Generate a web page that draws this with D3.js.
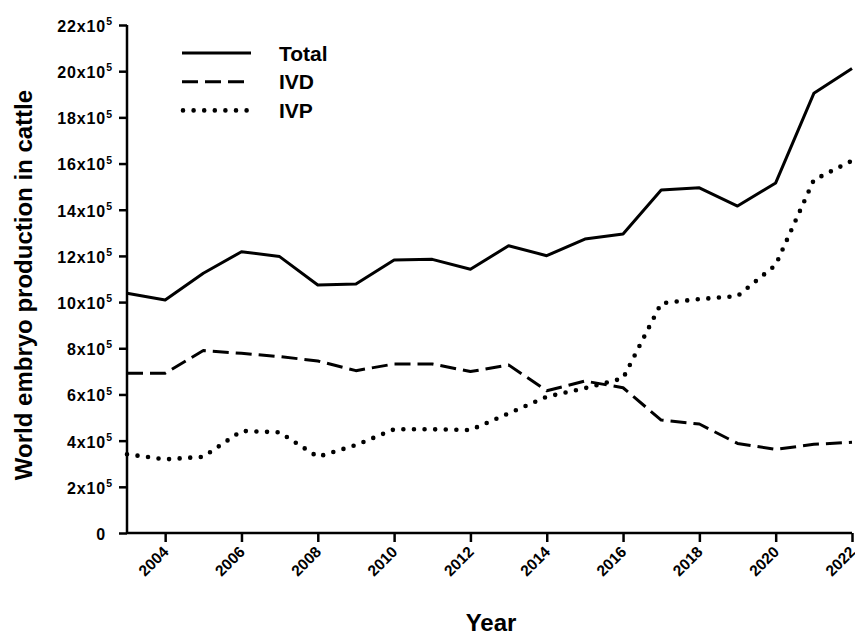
<!DOCTYPE html>
<html lang="en">
<head>
<meta charset="utf-8">
<style>
  body { margin: 0; background: #fff; }
  svg { font-family: "Liberation Sans", Arial, sans-serif; font-weight: bold; }
  .axis path, .axis line { stroke: #000; stroke-width: 2.5px; }
  .axis text { font-weight: bold; fill: #000; }
</style>
</head>
<body>
<svg width="855" height="635"></svg>
<script src="https://cdn.jsdelivr.net/npm/d3@7"></script>
<script>
// values in units of 10^5 embryos
var years = [2003, 2004, 2005, 2006, 2007, 2008, 2009, 2010, 2011, 2012, 2013,
             2014, 2015, 2016, 2017, 2018, 2019, 2020, 2021, 2022];
var total = [10.38, 10.09, 11.25, 12.18, 11.97, 10.74, 10.78, 11.82, 11.85, 11.42, 12.44,
             12.01, 12.73, 12.95, 14.85, 14.95, 14.16, 15.16, 19.04, 20.12];
var ivd = [6.92, 6.92, 7.9, 7.78, 7.64, 7.45, 7.03, 7.32, 7.32, 6.99, 7.28,
           6.16, 6.58, 6.29, 4.89, 4.72, 3.88, 3.62, 3.84, 3.93];
var ivp = [3.41, 3.19, 3.3, 4.42, 4.36, 3.3, 3.81, 4.49, 4.49, 4.46, 5.18,
           5.9, 6.27, 6.7, 9.95, 10.13, 10.26, 11.61, 15.29, 16.12];
var yTicks = [0, 2, 4, 6, 8, 10, 12, 14, 16, 18, 20, 22];
var xTicks = [2004, 2006, 2008, 2010, 2012, 2014, 2016, 2018, 2020, 2022];
var seriesNames = ["Total", "IVD", "IVP"];

var svg = d3.select("svg");

var x = d3.scaleLinear().domain([2003, 2022]).range([127, 852]);
var y = d3.scaleLinear().domain([0, 22]).range([533, 25]);

var styles = {
  Total: { dash: null, width: 3, cap: "butt" },
  IVD: { dash: "16,7", width: 3, cap: "butt" },
  IVP: { dash: "0,10.6", width: 4.6, cap: "round" }
};
var data = { Total: total, IVD: ivd, IVP: ivp };

// y axis, labels like 22x10^5
var yAxis = svg.append("g")
    .attr("class", "axis")
    .attr("transform", "translate(127,0)")
    .call(d3.axisLeft(y).tickValues(yTicks).tickSize(8).tickFormat(""));

yAxis.selectAll(".tick text").remove();
yAxis.selectAll(".tick").append("text")
    .attr("x", function (d) { return d === 0 ? -21 : -15; })
    .attr("dy", "0.4em")
    .attr("text-anchor", "end")
    .style("font-size", "16px")
    .style("letter-spacing", "0.9px")
    .each(function (d) {
      var t = d3.select(this);
      if (d === 0) { t.text("0"); return; }
      t.append("tspan").text(d + "x10");
      t.append("tspan").attr("dy", "-6.7").style("font-size", "10.5px").style("letter-spacing", "0px").text("5");
    });

var xAxis = svg.append("g")
    .attr("class", "axis")
    .attr("transform", "translate(0,533)")
    .call(d3.axisBottom(x).tickValues(xTicks).tickSize(9).tickFormat(d3.format("d")));

xAxis.selectAll(".tick text")
    .attr("text-anchor", "end")
    .attr("x", 0)
    .attr("y", 0)
    .attr("dy", "0.35em")
    .style("font-size", "15.5px")
    .attr("transform", "translate(0,16) rotate(-45)");

xAxis.select(".domain").attr("d", "M127,0H852");
yAxis.select(".domain").attr("d", "M0,533V25");

// lines
var line = d3.line()
    .x(function (d, i) { return x(years[i]); })
    .y(function (d) { return y(d); });

seriesNames.forEach(function (name) {
  var s = styles[name];
  svg.append("path")
      .datum(data[name])
      .attr("fill", "none")
      .attr("stroke", "#000")
      .attr("stroke-width", s.width)
      .attr("stroke-linecap", s.cap)
      .attr("stroke-linejoin", "round")
      .attr("stroke-dasharray", s.dash)
      .attr("d", line);
});

// legend
var legend = svg.append("g").attr("transform", "translate(182,53)");
seriesNames.forEach(function (name, i) {
  var s = styles[name];
  var g = legend.append("g").attr("transform", "translate(0," + (i * 28.7) + ")");
  g.append("line")
      .attr("x1", name === "IVP" ? 1 : 0)
      .attr("x2", name === "IVD" ? 62 : 69)
      .attr("stroke", "#000")
      .attr("stroke-width", s.width)
      .attr("stroke-linecap", s.cap)
      .attr("stroke-dasharray", s.dash);
  g.append("text")
      .attr("x", 97)
      .attr("dy", "0.36em")
      .style("font-size", "21px")
      .text(name);
});

// axis titles
svg.append("text")
    .attr("x", 491)
    .attr("y", 631)
    .attr("text-anchor", "middle")
    .style("font-size", "24px")
    .text("Year");

svg.append("text")
    .attr("transform", "translate(32,285) rotate(-90)")
    .attr("text-anchor", "middle")
    .style("font-size", "24px")
    .text("World embryo production in cattle");
</script>
</body>
</html>
